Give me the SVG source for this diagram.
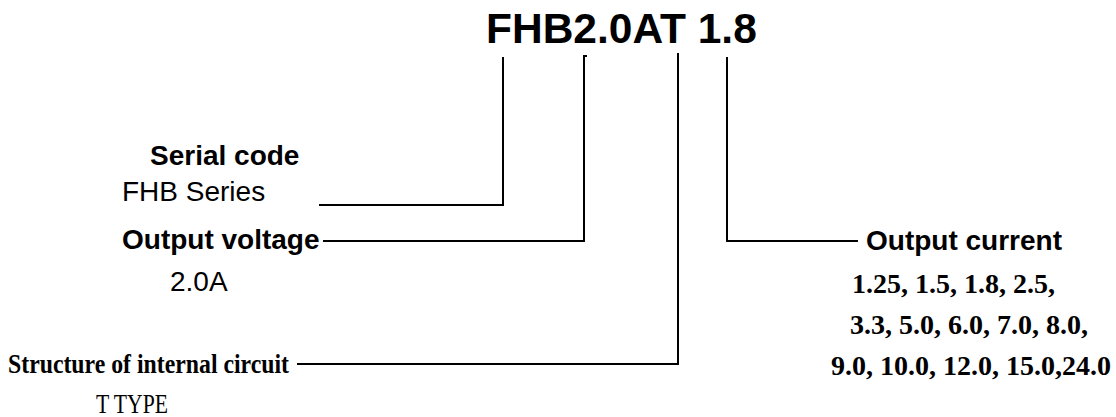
<svg xmlns="http://www.w3.org/2000/svg" width="1116" height="417" viewBox="0 0 1116 417">
<style>
.sb{font-family:"Liberation Sans",Arial,sans-serif;font-weight:bold;font-size:28px;fill:#000}
.sr{font-family:"Liberation Sans",Arial,sans-serif;font-size:28px;fill:#000}
.tb{font-family:"Liberation Serif","Times New Roman",serif;font-weight:bold;font-size:28px;fill:#000}
.tr{font-family:"Liberation Serif","Times New Roman",serif;font-size:28px;fill:#000}
.ln{fill:none;stroke:#000;stroke-width:2}
</style>
<rect width="1116" height="417" fill="#fff"/>
<g id="title"><text x="486" y="43" style="font-family:'Liberation Sans',Arial,sans-serif;font-weight:bold;font-size:42.5px">FHB2.0AT 1.8</text></g>
<g id="connectors">
<path class="ln" d="M503,57 V205 H319"/>
<path class="ln" d="M587,56 H584 V241 H323"/>
<path class="ln" d="M678,53 V364 H297"/>
<path class="ln" d="M727,57 V241 H858"/>
</g>
<g id="serial"><text class="sb" x="150" y="165">Serial code</text><text class="sr" x="122" y="201">FHB Series</text></g>
<g id="voltage"><text class="sb" x="122" y="249">Output voltage</text><text class="sr" x="170" y="291">2.0A</text></g>
<g id="structure"><text class="tb" x="8" y="373" textLength="281" lengthAdjust="spacingAndGlyphs">Structure of internal circuit</text><text class="tr" x="96" y="413" textLength="72" lengthAdjust="spacingAndGlyphs">T TYPE</text></g>
<g id="current"><text class="sb" x="866" y="250">Output current</text>
<text class="tb" x="852" y="293">1.25, 1.5, 1.8, 2.5,</text>
<text class="tb" x="850" y="334">3.3, 5.0, 6.0, 7.0, 8.0,</text>
<text class="tb" x="831" y="375">9.0, 10.0, 12.0, 15.0,24.0</text></g>
</svg>
